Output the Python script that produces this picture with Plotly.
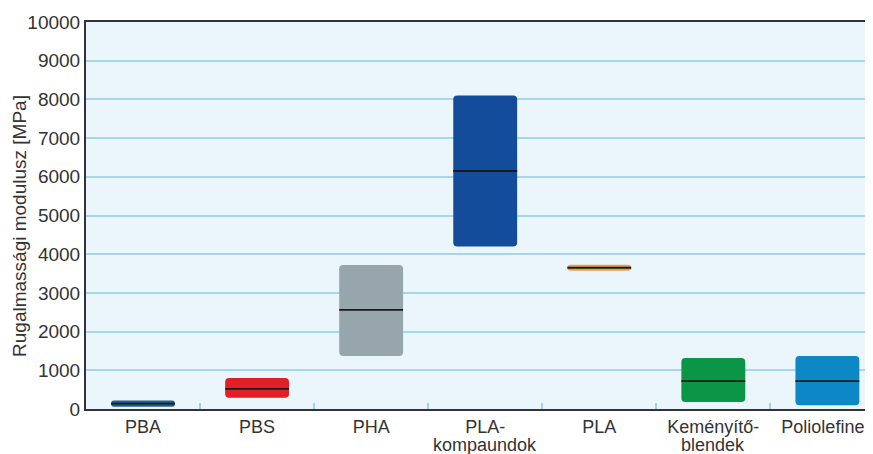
import plotly.graph_objects as go

categories = ["PBA", "PBS", "PHA", "PLA-", "PLA", "Keményítő-", "Poliolefinek"]
categories_line2 = ["", "", "", "kompaundok", "", "blendek", ""]
low = [60, 290, 1370, 4200, 3570, 180, 100]
high = [220, 800, 3720, 8100, 3730, 1320, 1370]
median = [140, 520, 2560, 6150, 3650, 720, 720]
colors = ["#1f5f8f", "#e01f26", "#97a5ad", "#124c9b", "#e8a24a", "#0a9547", "#0e87c7"]
y_ticks = list(range(0, 10001, 1000))
y_ticktext = [str(v) for v in y_ticks]
y_title = "Rugalmassági modulusz [MPa]"

xs = list(range(len(categories)))
half = 0.28

fig = go.Figure()
fig.add_trace(go.Bar(
    x=xs, y=[h - l for h, l in zip(high, low)], base=low,
    width=0.56, marker=dict(color=colors, line=dict(width=0), cornerradius=4),
    showlegend=False, hoverinfo="skip"))

mx, my = [], []
for i, m in zip(xs, median):
    mx += [i - half, i + half, None]
    my += [m, m, None]
fig.add_trace(go.Scatter(x=mx, y=my, mode="lines",
                         line=dict(color="#1a1a1a", width=1.8),
                         showlegend=False, hoverinfo="skip"))

for i, t in zip(xs, categories_line2):
    if t:
        fig.add_annotation(x=i, y=0, xref="x", yref="y", text=t, showarrow=False,
                           yanchor="top", yshift=-24,
                           font=dict(size=18, color="#333333"))

fig.add_annotation(x=0, y=0.473, xref="paper", yref="paper", text=y_title,
                   textangle=-90, showarrow=False, xanchor="center", yanchor="middle",
                   xshift=-66, font=dict(size=19, color="#333333"))

# page body has an 8px default margin; figure sized to fit the window
fig.update_layout(
    width=865, height=446,
    margin=dict(l=78, r=0, t=14, b=45),
    paper_bgcolor="white", plot_bgcolor="#eaf5fc",
    font=dict(family="Liberation Sans, Arial, sans-serif", color="#333333", size=18),
)
fig.update_xaxes(
    range=[-0.5, 6.4], tickvals=xs, ticktext=categories, automargin=False,
    ticklabeloverflow="allow",
    showgrid=False, ticks="", ticklen=0, showline=True, linecolor="#333333", linewidth=2,
    mirror=True, zeroline=False,
    minor=dict(tickvals=[i + 0.5 for i in xs], ticks="inside", ticklen=6,
               tickcolor="#9fd2ee", tickwidth=1.5, showgrid=False),
    tickfont=dict(size=18),
)
fig.update_yaxes(
    range=[0, 10000], tickvals=y_ticks, ticktext=y_ticktext, automargin=False,
    showgrid=True, gridcolor="#a6d5ef",
    gridwidth=1.5, zeroline=False, showline=True, linecolor="#333333", linewidth=2,
    ticks="", ticklen=0, tickfont=dict(size=19),
)

fig.write_html("out.html")
